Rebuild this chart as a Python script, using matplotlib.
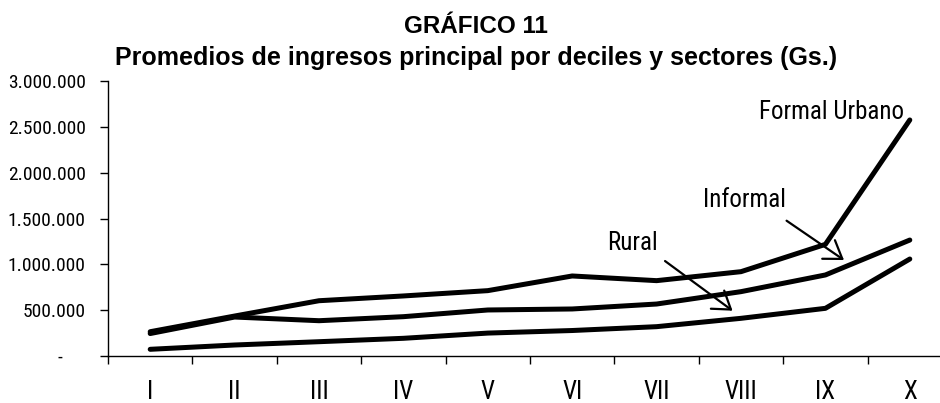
import matplotlib
matplotlib.use("Agg")
import matplotlib.pyplot as plt
from matplotlib.ticker import FixedLocator, FuncFormatter

# ---- data ----
deciles = ["I", "II", "III", "IV", "V", "VI", "VII", "VIII", "IX", "X"]
formal_urbano = [265000, 436000, 603000, 655000, 713000, 873000, 822000, 920000, 1218000, 2575000]
informal = [245000, 425000, 385000, 429000, 502000, 513000, 567000, 702000, 884000, 1265000]
rural = [73000, 120000, 156000, 193000, 250000, 278000, 320000, 411000, 520000, 1058000]
y_ticks = [0, 500000, 1000000, 1500000, 2000000, 2500000, 3000000]

title1 = "GRÁFICO 11"
title2 = "Promedios de ingresos principal por deciles y sectores (Gs.)"

NARROW = ["Roboto Condensed", "PT Sans Narrow", "DejaVu Sans"]
REG = ["Liberation Sans", "DejaVu Sans"]

fig = plt.figure(figsize=(9.4, 4.03), dpi=100)
ax = fig.add_axes([108 / 940, 1 - 356 / 403, 844 / 940, 275 / 403])

x = list(range(len(deciles)))
for series in (formal_urbano, informal, rural):
    ax.plot(x, series, color="black", lw=3.6, solid_capstyle="round",
            solid_joinstyle="round")

ax.set_xlim(-0.5, len(deciles) - 0.5)
ax.set_ylim(0, 3000000)

# spines
for s in ("top", "right"):
    ax.spines[s].set_visible(False)
for s in ("left", "bottom"):
    ax.spines[s].set_linewidth(1.0)
    ax.spines[s].set_color("black")

# x ticks: boundaries as major ticks, labels at category centres
ax.xaxis.set_major_locator(FixedLocator([i - 0.5 for i in range(len(deciles) + 1)]))
ax.xaxis.set_major_formatter(FuncFormatter(lambda v, p: ""))
ax.xaxis.set_minor_locator(FixedLocator(x))
ax.set_xticklabels(deciles, minor=True)
ax.tick_params(axis="x", which="major", length=6, width=1.0, direction="out", color="black")
ax.tick_params(axis="x", which="minor", length=0, pad=17)
for lbl in ax.get_xticklabels(minor=True):
    lbl.set_fontfamily(NARROW)
    lbl.set_fontsize(18)

# y ticks
def yfmt(v, p):
    if v == 0:
        return "-     "
    return f"{int(v):,}".replace(",", ".")

ax.set_yticks(y_ticks)
ax.yaxis.set_major_formatter(FuncFormatter(yfmt))
ax.tick_params(axis="y", length=6, width=1.0, direction="out", pad=10, color="black")
for lbl in ax.get_yticklabels():
    lbl.set_fontfamily(NARROW)
    lbl.set_fontsize(14)

# annotations
arrow_kw = dict(arrowstyle="->,head_length=0.4,head_width=0.27",
                lw=1.6, color="black", mutation_scale=30, shrinkA=0, shrinkB=0)
ax.text(8.07, 2662000, "Formal Urbano", family=NARROW, fontsize=18, ha="center", va="center")
ax.text(7.04, 1702000, "Informal", family=NARROW, fontsize=18, ha="center", va="center")
ax.annotate("", xy=(8.22, 1047000), xytext=(7.54, 1476000), arrowprops=arrow_kw,
            annotation_clip=False)
ax.text(5.72, 1236000, "Rural", family=NARROW, fontsize=18, ha="center", va="center")
ax.annotate("", xy=(6.90, 494000), xytext=(6.10, 1036000), arrowprops=arrow_kw,
            annotation_clip=False)

fig.text(476 / 940, 1 - 33 / 403, title1, family=REG, fontweight="bold",
         fontsize=17.5, ha="center", va="baseline")
fig.text(476 / 940, 1 - 65 / 403, title2, family=REG, fontweight="bold",
         fontsize=18, ha="center", va="baseline")

fig.savefig("out.png", dpi=100)
